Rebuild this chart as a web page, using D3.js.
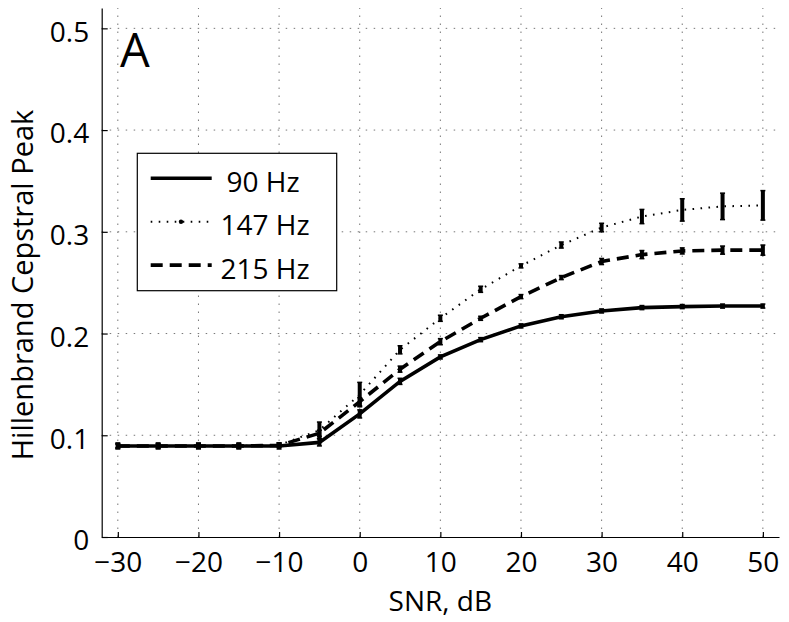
<!DOCTYPE html>
<html>
<head>
<meta charset="utf-8">
<script src="https://cdn.jsdelivr.net/npm/d3@7"></script>
<style>
  html, body { margin: 0; padding: 0; background: #fff; }
  svg { display: block; font-family: "Open Sans", sans-serif; }
</style>
</head>
<body>
<svg id="chart" width="789" height="622"></svg>
<script>
// ---- data ----
const snr = [-30, -25, -20, -15, -10, -5, 0, 5, 10, 15, 20, 25, 30, 35, 40, 45, 50];
const hz90  = [0.0895, 0.0895, 0.0895, 0.0895, 0.0895, 0.093, 0.121, 0.153, 0.177, 0.194, 0.2075, 0.2165, 0.2222, 0.2255, 0.2265, 0.227, 0.227];
const err90 = [0.003, 0.003, 0.003, 0.003, 0.003, 0.0035, 0.004, 0.003, 0.002, 0.002, 0.002, 0.002, 0.002, 0.002, 0.002, 0.002, 0.002];
const hz147 = [0.0895, 0.0895, 0.0895, 0.0895, 0.0905, 0.105, 0.14, 0.184, 0.215, 0.2435, 0.2665, 0.287, 0.3042, 0.315, 0.3215, 0.325, 0.326];
const err147 = [0.002, 0.002, 0.002, 0.002, 0.002, 0.008, 0.012, 0.004, 0.003, 0.003, 0.002, 0.003, 0.0042, 0.007, 0.011, 0.013, 0.0145];
const hz215 = [0.0895, 0.0895, 0.0895, 0.0895, 0.09, 0.102, 0.133, 0.165, 0.192, 0.215, 0.2363, 0.255, 0.2708, 0.2776, 0.2812, 0.282, 0.282];
const err215 = [0.002, 0.002, 0.002, 0.002, 0.002, 0.003, 0.004, 0.003, 0.003, 0.002, 0.002, 0.002, 0.003, 0.004, 0.003, 0.004, 0.005];
const seriesNames = ["90 Hz", "147 Hz", "215 Hz"];
const xTicks = [-30, -20, -10, 0, 10, 20, 30, 40, 50];
const yTicks = [0, 0.1, 0.2, 0.3, 0.4, 0.5];
const xTitle = "SNR, dB";
const yTitle = "Hillenbrand Cepstral Peak";
const panelLabel = "A";

// ---- layout ----
const svg = d3.select("#chart");
const L = 101.7, R = 779, T = 8, B = 537;
const x = d3.scaleLinear().domain([-32, 52]).range([L, R]);
const y = d3.scaleLinear().domain([0, 0.52]).range([B, T]);

// grid
const grid = svg.append("g").attr("stroke", "#777").attr("stroke-width", 1).attr("stroke-dasharray", "1.5,6.5");
grid.selectAll("line.v").data(xTicks).enter().append("line")
  .attr("x1", d => x(d)).attr("x2", d => x(d)).attr("y1", B).attr("y2", T);
grid.selectAll("line.h").data(yTicks.filter(d => d > 0)).enter().append("line")
  .attr("x1", L).attr("x2", R).attr("y1", d => y(d)).attr("y2", d => y(d));

// axes
const fmtX = d3.format("d");
const xAxis = svg.append("g").attr("transform", `translate(0,${B})`)
  .call(d3.axisBottom(x).tickValues(xTicks).tickFormat(fmtX).tickSizeInner(-5).tickSizeOuter(0).tickPadding(15));
const yAxis = svg.append("g").attr("transform", `translate(${L},0)`)
  .call(d3.axisLeft(y).tickValues(yTicks).tickFormat(d => d === 0 ? "0" : d.toFixed(1)).tickSizeInner(-6).tickSizeOuter(0).tickPadding(12.5));
[xAxis, yAxis].forEach(g => {
  g.select(".domain").attr("stroke", "#000").attr("stroke-width", 1.2);
  g.selectAll(".tick line").attr("stroke", "#000").attr("stroke-width", 1.2);
  g.selectAll(".tick text").attr("fill", "#000").attr("font-size", 28).attr("font-family", "Open Sans, sans-serif");
});
yAxis.selectAll(".tick text").attr("dy", "0.46em");

// series
const series = [
  { name: seriesNames[0], vals: hz90, err: err90, width: 3.6, dash: null },
  { name: seriesNames[1], vals: hz147, err: err147, width: 2, dash: "1.6,6.4" },
  { name: seriesNames[2], vals: hz215, err: err215, width: 3.6, dash: "12,7" }
];
const line = d3.line().x((d, i) => x(snr[i])).y(d => y(d));
series.forEach(s => {
  svg.append("path").datum(s.vals)
    .attr("fill", "none").attr("stroke", "#000")
    .attr("stroke-width", s.width)
    .attr("stroke-dasharray", s.dash)
    .attr("d", line);
  const eb = svg.append("g").attr("stroke", "#000");
  s.vals.forEach((v, i) => {
    const xp = x(snr[i]);
    eb.append("line").attr("x1", xp).attr("x2", xp)
      .attr("y1", y(v - s.err[i])).attr("y2", y(v + s.err[i])).attr("stroke-width", 4);
    [v - s.err[i], v + s.err[i]].forEach(e => {
      eb.append("line").attr("x1", xp - 2.5).attr("x2", xp + 2.5)
        .attr("y1", y(e)).attr("y2", y(e)).attr("stroke-width", 1.5);
    });
  });
});

// legend
const lg = svg.append("g");
lg.append("rect").attr("x", 137.3).attr("y", 153.3).attr("width", 199.4).attr("height", 137.4)
  .attr("fill", "#fff").attr("stroke", "#000").attr("stroke-width", 1.2);
series.forEach((s, i) => {
  const ly = 178.3 + i * 43.4;
  lg.append("line").attr("x1", 150.7).attr("x2", 211.7).attr("y1", ly).attr("y2", ly)
    .attr("stroke", "#000").attr("stroke-width", s.width).attr("stroke-dasharray", s.dash);
  if (s.dash && s.width < 3) {
    lg.append("circle").attr("cx", 181).attr("cy", ly).attr("r", 2.2).attr("fill", "#000");
  }
  lg.append("text").attr("x", i === 0 ? 226.5 : 220.5).attr("y", ly + 13.4)
    .attr("font-size", 28).attr("fill", "#000").text(s.name);
});

// titles
svg.append("text").attr("x", (x(-30) + x(50)) / 2).attr("y", 610.5)
  .attr("text-anchor", "middle").attr("font-size", 28).attr("fill", "#000").text(xTitle);
svg.append("text").attr("transform", "translate(32.5,285) rotate(-90)")
  .attr("text-anchor", "middle").attr("font-size", 29).attr("fill", "#000").text(yTitle);
svg.append("text").attr("x", 120).attr("y", 67).attr("font-size", 47).attr("fill", "#000").text(panelLabel);
</script>
</body>
</html>
